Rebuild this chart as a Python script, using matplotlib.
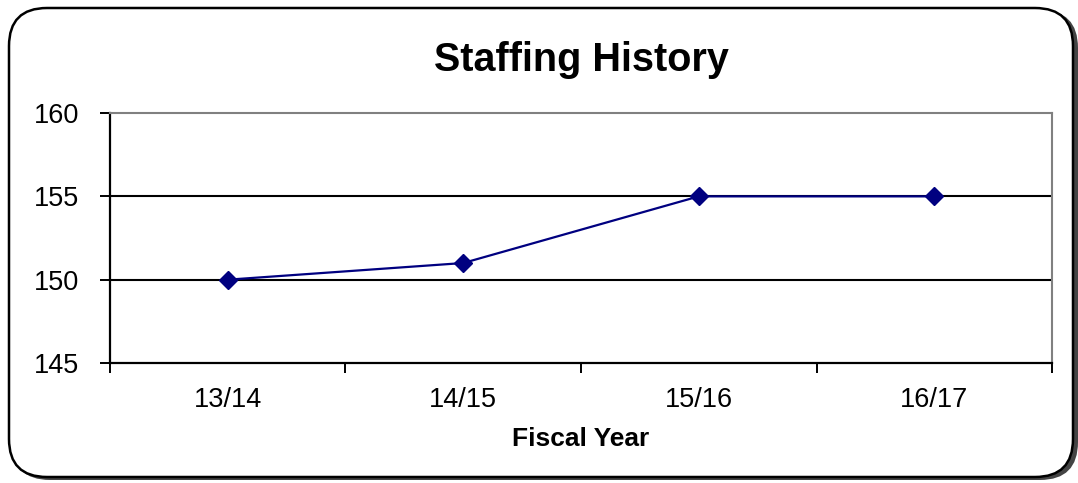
import numpy as np
import matplotlib.pyplot as plt
from matplotlib.patches import FancyBboxPatch

years = ["13/14", "14/15", "15/16", "16/17"]
staff = [150, 151, 155, 155]
y_ticks = [145, 150, 155, 160]

plt.rcParams["font.family"] = ["Liberation Sans", "DejaVu Sans"]

fig = plt.figure(figsize=(10.78, 4.83), dpi=100)

# rounded frame with shadow (pixel coords)
shadow = FancyBboxPatch((12, 3), 1066, 470, boxstyle="round,pad=0,rounding_size=38",
                        transform=None, facecolor="#444444", edgecolor="none", zorder=0)
frame = FancyBboxPatch((9, 6), 1064, 469, boxstyle="round,pad=0,rounding_size=38",
                       transform=None, facecolor="white", edgecolor="black", linewidth=1.8, zorder=1)
fig.patches.extend([shadow, frame])

ax = fig.add_axes([0.102, 0.2484, 0.874, 0.5176])
ax.set_facecolor("none")
ax.set_zorder(2)

x = np.arange(len(years))
ax.plot(x, staff, color="#000080", linewidth=1.6, marker="D", markersize=9,
        markerfacecolor="#000080", markeredgecolor="#000080", zorder=3)

ax.set_xlim(-0.5, len(years) - 0.5)
ax.set_ylim(145, 160)
ax.set_yticks(y_ticks)
ax.set_yticklabels([str(v) for v in y_ticks], fontsize=19.5)
for v in y_ticks[1:3]:
    ax.axhline(v, color="black", linewidth=1.5, zorder=1)

ax.set_xticks(x)
ax.set_xticklabels(years, fontsize=19.5)
ax.tick_params(axis="x", which="major", length=0, pad=17)
ax.set_xticks(np.arange(-0.5, len(years)), minor=True)
ax.tick_params(axis="x", which="minor", length=7, width=1.4, direction="out", color="black")
ax.tick_params(axis="y", length=7, width=1.4, direction="out", pad=15)

ax.spines["left"].set_color("black")
ax.spines["left"].set_linewidth(1.6)
ax.spines["bottom"].set_color("black")
ax.spines["bottom"].set_linewidth(1.6)
ax.spines["top"].set_color("#808080")
ax.spines["top"].set_linewidth(1.5)
ax.spines["right"].set_color("#808080")
ax.spines["right"].set_linewidth(1.5)

ax.set_xlabel("Fiscal Year", fontsize=19, fontweight="bold", labelpad=10)
ax.set_title("Staffing History", fontsize=28.5, fontweight="bold", pad=30)

fig.savefig("out.png", dpi=100)
